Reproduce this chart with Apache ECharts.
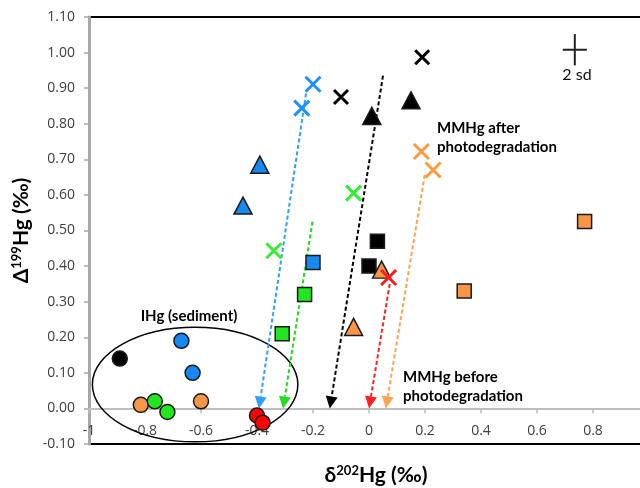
<!DOCTYPE html>
<html>
<head>
<meta charset="utf-8">
<script src="https://cdn.jsdelivr.net/npm/echarts@6/dist/echarts.min.js"></script>
<style>html,body{margin:0;padding:0;background:#fff}#c{width:640px;height:488px}</style>
</head>
<body>
<div id="c"></div>
<script>
// ---- data (x = δ202Hg ‰, y = Δ199Hg ‰) ----
const xTicks = [-1, -0.8, -0.6, -0.4, -0.2, 0, 0.2, 0.4, 0.6, 0.8, 1];
const yTicks = [-0.10, 0.00, 0.10, 0.20, 0.30, 0.40, 0.50, 0.60, 0.70, 0.80, 0.90, 1.00, 1.10];

// IHg (sediment) circles
const circleBlack  = [[-0.89, 0.14]];
const circleBlue   = [[-0.67, 0.19], [-0.63, 0.10]];
const circleOrange = [[-0.815, 0.01], [-0.60, 0.02]];
const circleGreen  = [[-0.765, 0.02], [-0.72, -0.01]];
const circleRed    = [[-0.40, -0.02], [-0.38, -0.04]];

// squares
const squareBlue   = [[-0.20, 0.41]];
const squareGreen  = [[-0.23, 0.32], [-0.31, 0.21]];
const squareBlack  = [[0.03, 0.47], [0.00, 0.40]];
const squareOrange = [[0.34, 0.33], [0.77, 0.525]];

// triangles
const triBlue   = [[-0.39, 0.685], [-0.45, 0.57]];
const triBlack  = [[0.01, 0.822], [0.15, 0.866]];
const triOrange = [[0.045, 0.39], [-0.055, 0.229]];

// crosses (MMHg after photodegradation)
const xBlue   = [[-0.20, 0.911], [-0.24, 0.844]];
const xBlack  = [[-0.10, 0.875], [0.19, 0.987]];
const xGreen  = [[-0.055, 0.605], [-0.34, 0.443]];
const xOrange = [[0.187, 0.722], [0.229, 0.670]];
const xRed    = [[0.07, 0.368]];

// dashed arrows: [x start, y start, x end, y end]
const arrowBlue   = [[-0.225, 0.885, -0.393, 0.0]];
const arrowGreen  = [[-0.202, 0.525, -0.307, 0.0]];
const arrowBlack  = [[0.050, 0.935, -0.140, 0.0]];
const arrowRed    = [[0.074, 0.350, 0.000, 0.0]];
const arrowOrange = [[0.199, 0.656, 0.060, 0.0]];

// annotation ellipse [cx, cy, rx, ry] and 2 sd error cross [x, y, dx, dy]
const ellipseIHg = [[-0.621, 0.067, 0.367, 0.161]];
const errCross   = [[0.735, 1.008, 0.043, 0.044]];

// ---- styling ----
const C = {
  blue: '#1589f0', blueX: '#1e90ff', blueL: '#2fa0ff',
  green: '#22e622', greenX: '#33ee33', greenL: '#22dd22',
  orange: '#f79646', orangeX: '#ff9a40', orangeL: '#ffa352',
  red: '#ff0000', redX: '#ff1a1a', redL: '#ff2020',
  black: '#000000'
};
const BORDER = '#1a1a1a';
const XPATH = 'path://M0,0L10,10M0,10L10,0';

function scatter(data, symbol, size, color, isX) {
  return {
    type: 'scatter', data: data, symbol: symbol, symbolSize: size, z: 5,
    itemStyle: isX
      ? { color: 'rgba(0,0,0,0)', borderColor: color, borderWidth: 3, opacity: 1 }
      : { color: color, borderColor: BORDER, borderWidth: 1.5, opacity: 1 },
    emphasis: { disabled: true }, silent: true
  };
}

function arrowSeries(data, color) {
  return {
    type: 'custom', data: data, z: 3, silent: true,
    encode: { x: [0, 2], y: [1, 3] },
    renderItem: function (params, api) {
      const p1 = api.coord([api.value(0), api.value(1)]);
      const p2 = api.coord([api.value(2), api.value(3)]);
      const dx = p2[0] - p1[0], dy = p2[1] - p1[1];
      const len = Math.sqrt(dx * dx + dy * dy);
      const ux = dx / len, uy = dy / len;
      const L = 12, W = 6;
      const bx = p2[0] - ux * L, by = p2[1] - uy * L;
      const nx = -uy, ny = ux;
      return {
        type: 'group', children: [
          { type: 'line', shape: { x1: p1[0], y1: p1[1], x2: bx, y2: by },
            style: { stroke: color, lineWidth: 2, lineDash: [4, 2.5] } },
          { type: 'polygon', shape: { points: [[p2[0], p2[1]], [bx + nx * W, by + ny * W], [bx - nx * W, by - ny * W]] },
            style: { fill: color } }
        ]
      };
    }
  };
}

const chart = echarts.init(document.getElementById('c'), null, { renderer: 'canvas' });

const tickFont = { fontFamily: 'Open Sans', fontSize: 14, color: '#404040' };
const GRID_H = 427;
const Y_MIN = yTicks[0], Y_MAX = yTicks[yTicks.length - 1];
// move the x axis up to the y = 0 line
const zeroOffset = -GRID_H * (0 - Y_MIN) / (Y_MAX - Y_MIN);

const option = {
  animation: false,
  backgroundColor: '#ffffff',
  grid: { left: 89, top: 17, width: 560, height: GRID_H, containLabel: false, outerBoundsMode: 'none',
          show: true, borderColor: '#000', borderWidth: 2, backgroundColor: 'transparent' },
  xAxis: {
    type: 'value', min: xTicks[0], max: xTicks[xTicks.length - 1], interval: 0.2,
    position: 'bottom', offset: zeroOffset,
    axisLine: { onZero: false, lineStyle: { color: '#bfbfbf', width: 2 } },
    axisTick: { show: true, length: 5, lineStyle: { color: '#bfbfbf', width: 1.5 } },
    splitLine: { show: false },
    axisLabel: Object.assign({ margin: 16, showMinLabel: true, formatter: function (v) { return String(Math.round(v * 10) / 10); } }, tickFont),
    name: '{d|δ}{s|202}{d|Hg (‰)}', nameLocation: 'middle', nameGap: 56,
    nameTextStyle: { padding: [0, 0, 0, 14], rich: {
      d: { fontFamily: 'Lato', fontWeight: 'bold', fontSize: 21, color: '#000' },
      s: { fontFamily: 'Lato', fontWeight: 'bold', fontSize: 13, color: '#000', padding: [0, 0, 9, 0] }
    } }
  },
  yAxis: {
    type: 'value', min: Y_MIN, max: Y_MAX, interval: 0.1,
    axisLine: { show: true, onZero: false, lineStyle: { color: '#a6a6a6', width: 3 } },
    axisTick: { show: true, length: 5, lineStyle: { color: '#a6a6a6', width: 1.5 } },
    splitLine: { show: false },
    axisLabel: Object.assign({ margin: 14, formatter: function (v) { return v.toFixed(2); } }, tickFont),
    name: '{d|Δ}{s|199}{d|Hg (‰)}', nameLocation: 'middle', nameGap: 47, nameRotate: 90,
    nameTextStyle: { rich: {
      d: { fontFamily: 'Lato', fontWeight: 'bold', fontSize: 21, color: '#000' },
      s: { fontFamily: 'Lato', fontWeight: 'bold', fontSize: 13, color: '#000', padding: [0, 0, 9, 0] }
    } }
  },
  graphic: [
    { type: 'text', x: 189, y: 316, z: 10, style: { text: 'IHg (sediment)', font: 'bold 15px Lato', fill: '#000', textAlign: 'center', textVerticalAlign: 'middle' } },
    { type: 'text', x: 437, y: 119, z: 10, style: { text: 'MMHg after\nphotodegradation', font: 'bold 15px Lato', fill: '#000', lineHeight: 19, textAlign: 'left', textVerticalAlign: 'top' } },
    { type: 'text', x: 403, y: 368, z: 10, style: { text: 'MMHg before\nphotodegradation', font: 'bold 15px Lato', fill: '#000', lineHeight: 19, textAlign: 'left', textVerticalAlign: 'top' } },
    { type: 'text', x: 577, y: 75, z: 10, style: { text: '2 sd', font: '16px Lato', fill: '#111', textAlign: 'center', textVerticalAlign: 'middle' } }
  ],
  series: [
    {
      type: 'custom', data: ellipseIHg, z: 2, silent: true, encode: { x: 0, y: 1 },
      renderItem: function (params, api) {
        const c = api.coord([api.value(0), api.value(1)]);
        const s = api.size([api.value(2), api.value(3)]);
        return { type: 'ellipse', shape: { cx: c[0], cy: c[1], rx: s[0], ry: s[1] }, style: { fill: 'none', stroke: '#000', lineWidth: 1.5 } };
      }
    },
    {
      type: 'custom', data: errCross, z: 2, silent: true, encode: { x: 0, y: 1 },
      renderItem: function (params, api) {
        const x = api.value(0), y = api.value(1), dx = api.value(2), dy = api.value(3);
        const a = api.coord([x - dx, y]), b = api.coord([x + dx, y]);
        const c = api.coord([x, y - dy]), d = api.coord([x, y + dy]);
        return { type: 'group', children: [
          { type: 'line', shape: { x1: a[0], y1: a[1], x2: b[0], y2: b[1] }, style: { stroke: '#222', lineWidth: 2 } },
          { type: 'line', shape: { x1: c[0], y1: c[1], x2: d[0], y2: d[1] }, style: { stroke: '#222', lineWidth: 2 } }
        ] };
      }
    },
    arrowSeries(arrowBlue, C.blueL),
    arrowSeries(arrowGreen, C.greenL),
    arrowSeries(arrowBlack, C.black),
    arrowSeries(arrowRed, C.redL),
    arrowSeries(arrowOrange, C.orangeL),
    scatter(circleBlack, 'circle', 15, C.black),
    scatter(circleBlue, 'circle', 15, C.blue),
    scatter(circleOrange, 'circle', 15, C.orange),
    scatter(circleGreen, 'circle', 15, C.green),
    scatter(circleRed, 'circle', 15, C.red),
    scatter(squareBlue, 'rect', 14, C.blue),
    scatter(squareGreen, 'rect', 14, C.green),
    scatter(squareBlack, 'rect', 14, C.black),
    scatter(squareOrange, 'rect', 14, C.orange),
    scatter(triBlue, 'triangle', [18, 17], C.blue),
    scatter(triBlack, 'triangle', [18, 17], C.black),
    scatter(triOrange, 'triangle', [18, 17], C.orange),
    scatter(xBlue, XPATH, 15, C.blueX, true),
    scatter(xBlack, XPATH, 14, C.black, true),
    scatter(xGreen, XPATH, 15, C.greenX, true),
    scatter(xOrange, XPATH, 15, C.orangeX, true),
    scatter(xRed, XPATH, 15, C.redX, true)
  ]
};
chart.setOption(option);
</script>
</body>
</html>
